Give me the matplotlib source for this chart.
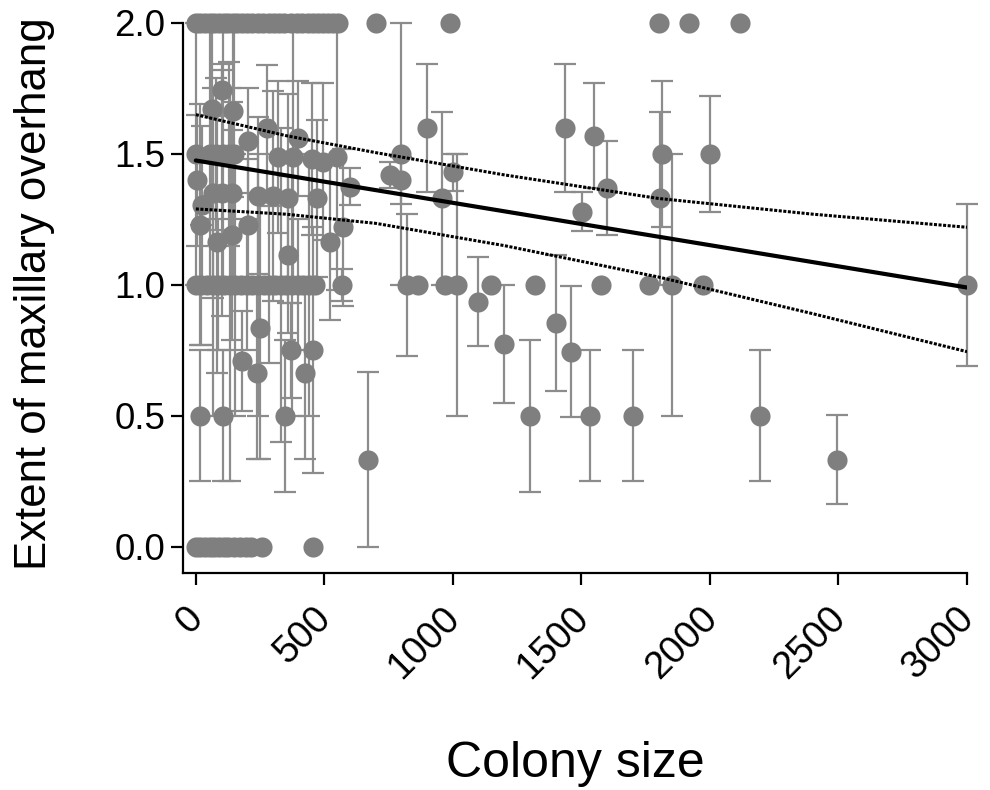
import matplotlib
matplotlib.use("Agg")
import matplotlib.pyplot as plt
import matplotlib.transforms as mtransforms
import numpy as np

plt.rcParams['font.family'] = ['Liberation Sans', 'DejaVu Sans']

# ---- data ----
# points at 2.0 (no spread)
top_x = [0, 18, 36, 54, 72, 90, 108, 126, 144, 162, 180, 200, 220, 240, 262, 285,
         305, 325, 345, 370, 395, 415, 435, 455, 475, 495, 515, 535, 552,
         700, 990, 1800, 1918, 2117]
# points at 0.0 (no spread)
zero_x = [0, 18, 36, 54, 72, 90, 108, 126, 150, 172, 195, 215, 257, 455]
# points at 1.0 in the dense cluster
one_x = [0, 22, 44, 66, 88, 110, 132, 154, 176, 198, 220, 242, 264, 286, 308,
         330, 352, 374, 396, 418, 440, 462, 568]
one_sd = [0, 0.23, 0, 0.5, 0.25, 0, 0.75, 0.5, 0, 0.25, 0, 0.5, 0, 0.3, 0,
          0.6, 0, 0.5, 0.25, 0, 0.5, 0, 0.06]
# remaining colonies: size, mean overhang, sd
other_x = [0, 55, 80, 105, 130, 150, 320, 377, 451, 494, 549,
           101, 62, 144, 276, 203, 397,
           3, 66, 100, 140, 241, 300, 358, 471, 23,
           16, 82, 140, 202, 358, 521, 572, 599,
           249, 179, 237, 370, 455, 424, 16, 105, 346, 669,
           755, 798, 798, 821, 864, 899, 957, 969, 1000, 1016, 1098, 1148,
           1198, 1300, 1320, 1400, 1436, 1459, 1502, 1533, 1549, 1576, 1599,
           1700, 1763, 1813, 1805, 1852, 1973, 2000, 2195, 2494, 3000]
other_y = [1.50, 1.50, 1.50, 1.50, 1.50, 1.50, 1.49, 1.49, 1.48, 1.47, 1.49,
           1.745, 1.67, 1.665, 1.60, 1.55, 1.56,
           1.40, 1.35, 1.35, 1.35, 1.34, 1.34, 1.33, 1.33, 1.305,
           1.23, 1.165, 1.19, 1.23, 1.115, 1.165, 1.22, 1.375,
           0.835, 0.71, 0.665, 0.75, 0.75, 0.665, 0.50, 0.50, 0.50, 0.333,
           1.42, 1.50, 1.40, 1.00, 1.00, 1.60, 1.33, 1.00, 1.43, 1.00, 0.935, 1.00,
           0.775, 0.50, 1.00, 0.855, 1.60, 0.745, 1.28, 0.50, 1.57, 1.00, 1.37,
           0.50, 1.00, 1.50, 1.33, 1.00, 1.00, 1.50, 0.50, 0.333, 1.00]
other_sd = [0.50, 0.50, 0.29, 0.50, 0.35, 0.50, 0.29, 0.50, 0.29, 0.30, 0.51,
            0.10, 0.33, 0.33, 0.24, 0.20, 0.22,
            0.25, 0.40, 0.47, 0.35, 0.30, 0.40, 0.40, 0.30, 0.30,
            0.46, 0.50, 0.40, 0.25, 0.30, 0.30, 0.30, 0.07,
            0.50, 0.19, 0.33, 0.18, 0.47, 0.33, 0.25, 0.25, 0.29, 0.333,
            0.05, 0.50, 0.09, 0.27, 0.0, 0.245, 0.33, 0.0, 0.07, 0.50, 0.17, 0.0,
            0.225, 0.29, 0.0, 0.26, 0.245, 0.25, 0.075, 0.25, 0.20, 0.0, 0.18,
            0.25, 0.0, 0.28, 0.33, 0.50, 0.0, 0.22, 0.25, 0.17, 0.31]

# regression line and 95% confidence band
fit_x = [0, 3000]
fit_y = [1.475, 0.99]
ci_x = [0, 350, 700, 1200, 1800, 2400, 3000]
ci_upper = [1.65, 1.57, 1.505, 1.42, 1.33, 1.27, 1.22]
ci_lower = [1.29, 1.27, 1.235, 1.15, 1.03, 0.89, 0.745]

x_ticks = [0, 500, 1000, 1500, 2000, 2500, 3000]
y_ticks = [0.0, 0.5, 1.0, 1.5, 2.0]

# ---- assemble ----
xs = np.array(top_x + zero_x + one_x + other_x, dtype=float)
ys = np.array([2.0] * len(top_x) + [0.0] * len(zero_x) + [1.0] * len(one_x) + other_y)
sds = np.array([0.0] * len(top_x) + [0.0] * len(zero_x) + one_sd + other_sd)

fig = plt.figure(figsize=(9.9, 7.9), dpi=100)
ax = fig.add_axes([0.1848, 0.2747, 0.9768 - 0.1848, 0.9709 - 0.2747])

bar_color = '#8c8c8c'
dot_color = '#7f7f7f'

mask = sds > 0
ax.errorbar(xs[mask], ys[mask], yerr=sds[mask], fmt='none', ecolor=bar_color,
            elinewidth=1.6, capsize=8, capthick=1.6, zorder=2, clip_on=False)
ax.plot(xs, ys, 'o', color=dot_color, markersize=14.5, markeredgewidth=0,
        zorder=3, clip_on=False)

ax.plot(fit_x, fit_y, color='black', lw=3.0, zorder=5, solid_capstyle='round')
ax.plot(ci_x, ci_upper, color='black', lw=2.2, ls=(0, (1, 0.5)), zorder=5)
ax.plot(ci_x, ci_lower, color='black', lw=2.2, ls=(0, (1, 0.5)), zorder=5)

ax.set_xlim(-50, 3000)
ax.set_ylim(-0.1, 2.0)
ax.set_xticks(x_ticks)
ax.set_yticks(y_ticks)
ax.set_yticklabels([f"{v:.1f}" for v in y_ticks])
ax.set_xticklabels([str(v) for v in x_ticks], rotation=45, ha='right',
                   rotation_mode='anchor')

for s in ['top', 'right']:
    ax.spines[s].set_visible(False)
for s in ['left', 'bottom']:
    ax.spines[s].set_linewidth(1.6)
    ax.spines[s].set_color('black')

ax.tick_params(axis='both', direction='out', length=8.5, width=1.6,
               colors='black', pad=4)
ax.tick_params(axis='y', labelsize=26.5)
ax.tick_params(axis='x', labelsize=27.5, pad=11)

shift = mtransforms.ScaledTranslation(-8 / 72, 0, fig.dpi_scale_trans)
for lab in ax.get_xticklabels():
    lab.set_transform(lab.get_transform() + shift)

ax.set_xlabel('Colony size', fontsize=36, labelpad=40)
ax.set_ylabel('Extent of maxillary overhang', fontsize=31.5, labelpad=43)
ax.yaxis.label.set_y(0.508)

fig.savefig('out.png', dpi=100)
